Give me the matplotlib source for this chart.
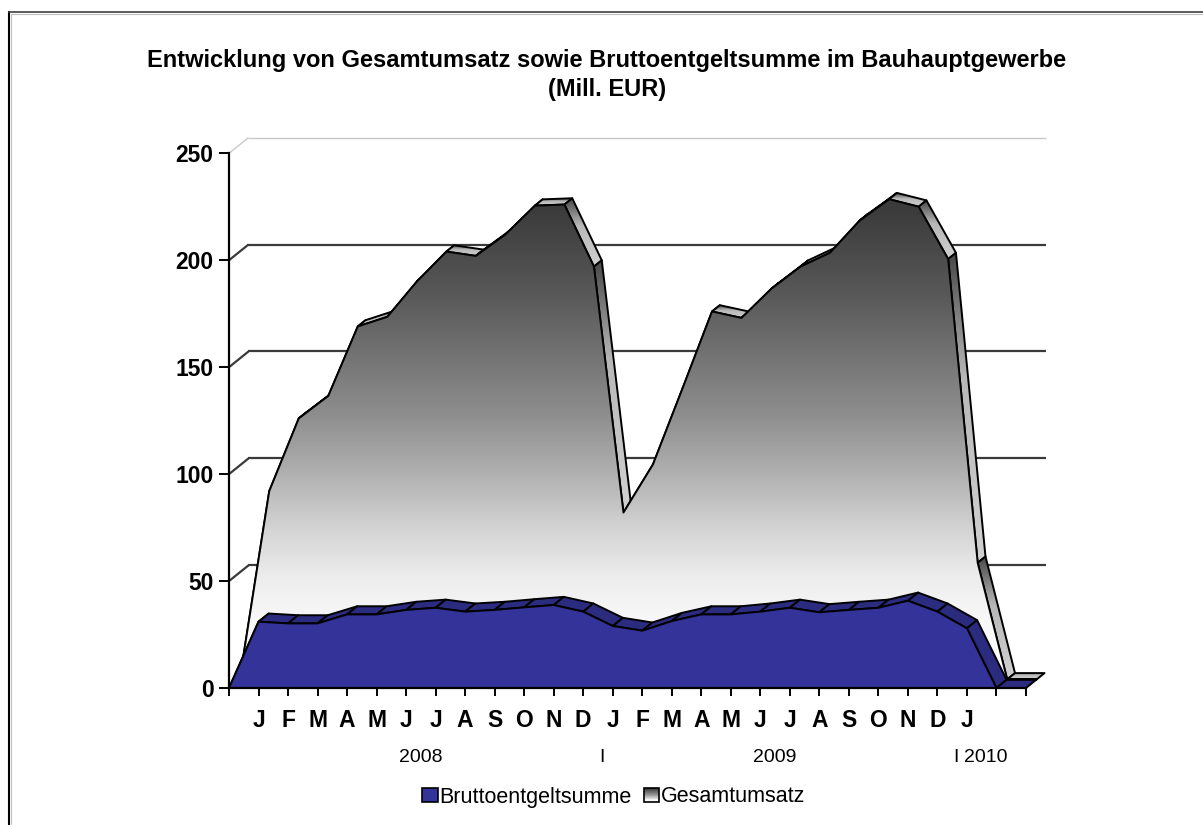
import numpy as np
import matplotlib
matplotlib.use('Agg')
import matplotlib.pyplot as plt
from matplotlib.patches import Polygon, Rectangle, Patch
from matplotlib.colors import LinearSegmentedColormap
from matplotlib.legend_handler import HandlerBase
from matplotlib.lines import Line2D

plt.rcParams['font.family'] = ['Liberation Sans', 'DejaVu Sans']

# ---------------- data ----------------
months = ['J', 'F', 'M', 'A', 'M', 'J', 'J', 'A', 'S', 'O', 'N', 'D']
categories = [''] + months + months + ['J', '', '']
years = ['2008', '2009', '2010']
year_spans = [(1, 12), (13, 24), (25, 26)]
brutto = [0, 31.0, 30.2, 30.2, 34.4, 34.4, 36.5, 37.5, 35.7, 36.5, 37.7, 38.8, 35.7,
          29.0, 26.8, 31.3, 34.4, 34.4, 35.7, 37.5, 35.4, 36.5, 37.5, 40.8, 35.7,
          27.9, 0, 0]
gesamt = [0, 88, 122, 132.5, 165, 169.5, 186, 200, 198, 208, 221.5, 222, 193,
          78, 100.5, 136, 172, 169, 182.5, 193, 199.5, 214.5, 224.5, 221, 196.5,
          54.5, 0, 0]
series_names = ['Bruttoentgeltsumme', 'Gesamtumsatz']
yticks = [0, 50, 100, 150, 200, 250]
title = 'Entwicklung von Gesamtumsatz sowie Bruttoentgeltsumme im Bauhauptgewerbe\n(Mill. EUR)'

# ---------------- layout ----------------
W, H = 1203, 825
X0, X1 = 229.0, 1026.0      # pixel of first / last category
Y0, Y250 = 688.0, 153.3     # pixel of value 0 / 250
n = len(categories)
ppi = (X1 - X0) / (n - 1)
ppv = (Y0 - Y250) / 250.0
DX = 19.5 / ppi             # full depth offset in data units
DY = 15.7 / ppv
ZB = (0.0, 0.52)
ZG = (0.55, 0.95)

fig = plt.figure(figsize=(W / 100, H / 100), dpi=100)
ax = fig.add_axes([0, 0, 1, 1])

def P(i, v, z):
    return (i + z * DX, v + z * DY)

zc = [1]
def nz():
    zc[0] += 1
    return zc[0]

front_cmap = LinearSegmentedColormap.from_list('front', [
    (0.0, (1, 1, 1)), (28 / 228, (0.97,) * 3), (47 / 228, (0.93,) * 3),
    (70 / 228, (0.83,) * 3), (96 / 228, (0.69,) * 3), (125 / 228, (0.55,) * 3),
    (179 / 228, (0.35,) * 3), (217 / 228, (0.24,) * 3), (1.0, (0.22,) * 3)])
rib_cmap = LinearSegmentedColormap.from_list('rib', [
    (0.0, (0.82,) * 3), (0.6, (0.72,) * 3), (1.0, (0.28,) * 3)])

def grad_fill(poly, cmap, z, ylims=None):
    poly = np.asarray(poly)
    xs, ys = poly[:, 0], poly[:, 1]
    ylo, yhi = ylims if ylims else (ys.min(), ys.max())
    if yhi - ylo < 1e-6:
        yhi = ylo + 1e-3
    img = np.linspace(0, 1, 256).reshape(-1, 1)
    im = ax.imshow(img, cmap=cmap, vmin=0, vmax=1,
                   extent=(xs.min(), xs.max(), ylo, yhi), origin='lower',
                   aspect='auto', interpolation='bilinear', zorder=z)
    clip = Polygon(poly, closed=True, transform=ax.transData)
    im.set_clip_path(clip)

LW = 1.4

# ---------------- back wall grid ----------------
for v in yticks[1:]:
    col = '#c8c8c8' if v == yticks[-1] else '#3a3a3a'
    lw = 1.0 if v == yticks[-1] else 1.6
    bx0, by = P(0, v, 1.0)
    bx1, _ = P(n - 1, v, 1.0)
    ax.plot([bx0, bx1], [by, by], color=col, lw=lw, zorder=nz(), solid_capstyle='butt')
    ax.plot([0, bx0], [v, by], color=col, lw=lw, zorder=nz(), solid_capstyle='butt')

# ---------------- Gesamtumsatz (back series) ----------------
for i in range(n - 1):
    q = [P(i, gesamt[i], ZG[0]), P(i + 1, gesamt[i + 1], ZG[0]),
         P(i + 1, gesamt[i + 1], ZG[1]), P(i, gesamt[i], ZG[1])]
    z = nz()
    grad_fill(q, rib_cmap, z)
    ax.add_patch(Polygon(q, closed=True, facecolor='none', edgecolor='black',
                         lw=LW, zorder=z + 0.5, joinstyle='round'))
    zc[0] += 1

front_g = [P(i, gesamt[i], ZG[0]) for i in range(n)] + \
          [P(n - 1, 0, ZG[0]), P(0, 0, ZG[0])]
z = nz()
gmax = max(gesamt) + 3.5
grad_fill(front_g, front_cmap, z, ylims=(ZG[0] * DY, gmax + ZG[0] * DY))
ax.add_patch(Polygon(front_g, closed=True, facecolor='none', edgecolor='black',
                     lw=LW, zorder=z + 0.5, joinstyle='round'))
zc[0] += 1

# ---------------- Bruttoentgeltsumme (front series) ----------------
for i in range(n - 1):
    q = [P(i, brutto[i], ZB[0]), P(i + 1, brutto[i + 1], ZB[0]),
         P(i + 1, brutto[i + 1], ZB[1]), P(i, brutto[i], ZB[1])]
    ax.add_patch(Polygon(q, closed=True, facecolor='#2b2b80', edgecolor='black',
                         lw=LW, zorder=nz(), joinstyle='round'))
front_b = [P(i, brutto[i], ZB[0]) for i in range(n)] + \
          [P(n - 1, 0, ZB[0]), P(0, 0, ZB[0])]
ax.add_patch(Polygon(front_b, closed=True, facecolor='#333399', edgecolor='black',
                     lw=LW, zorder=nz(), joinstyle='round'))

# ---------------- axes ----------------
ax.set_xlim(-X0 / ppi, (W - X0) / ppi)
ax.set_ylim(-(H - Y0) / ppv, Y0 / ppv)
for s in ['top', 'right']:
    ax.spines[s].set_visible(False)
ax.spines['left'].set_position(('data', 0))
ax.spines['bottom'].set_position(('data', 0))
ax.spines['left'].set_bounds(0, yticks[-1])
ax.spines['bottom'].set_bounds(0, n - 1)
for s in ['left', 'bottom']:
    ax.spines[s].set_linewidth(1.6)
    ax.spines[s].set_zorder(500)
ax.set_xticks(range(n))
ax.set_xticklabels(categories)
ax.set_yticks(yticks)
ax.tick_params(axis='y', direction='out', length=7.2, width=1.4, pad=4, labelsize=16.5)
ax.tick_params(axis='x', direction='out', length=5.8, width=1.4, pad=9, labelsize=16.5)
for lbl in ax.get_xticklabels() + ax.get_yticklabels():
    lbl.set_fontweight('bold')

# year (second level) labels
ydrop = -(758 - Y0) * 0.72
for yr, (a, b) in zip(years, year_spans):
    cx = (a + b) / 2 + (0.12 if b - a < 2 else 0)
    ax.annotate(yr, xy=(cx, 0), xytext=(0, ydrop),
                textcoords='offset points', ha='center', va='center', fontsize=14)
for (a, b) in year_spans[:-1]:
    ax.annotate('I', xy=(b + 0.63, 0), xytext=(0, ydrop),
                textcoords='offset points', ha='center', va='center', fontsize=14)

# ---------------- title ----------------
fig.text(607 / W, 1 - 75 / H, title, ha='center', va='center', fontsize=17,
         fontweight='bold', linespacing=1.33)

# ---------------- legend ----------------
class GradHandler(HandlerBase):
    def create_artists(self, legend, orig_handle, xdescent, ydescent,
                       width, height, fontsize, trans):
        arts = []
        k = 16
        for j in range(k):
            c = front_cmap((j + 0.5) / k)
            arts.append(Rectangle((-xdescent, -ydescent + height * (j / k)), width,
                                  height / k + 0.01, facecolor=c, edgecolor='none',
                                  transform=trans))
        arts.append(Rectangle((-xdescent, -ydescent), width, height, facecolor='none',
                              edgecolor='black', lw=1.2, transform=trans))
        return arts

h_b = Patch(facecolor='#333399', edgecolor='black', lw=1.2)
h_g = Patch(facecolor='#888888', edgecolor='black')
ax.legend(handles=[h_b, h_g], labels=series_names, loc='center',
          bbox_to_anchor=(614 / W, 1 - 797 / H), bbox_transform=fig.transFigure,
          ncol=2, frameon=False, handlelength=0.7, handleheight=0.65,
          handletextpad=0.08, columnspacing=0.6, borderpad=0, fontsize=15.5,
          handler_map={h_g: GradHandler()})

# ---------------- chart frame ----------------
fig.add_artist(Line2D([8.5 / W, 8.5 / W], [0, 1 - 12 / H], transform=fig.transFigure,
                      color='black', lw=1.5))
fig.add_artist(Line2D([10.5 / W, 10.5 / W], [0, 1 - 14 / H], transform=fig.transFigure,
                      color='#c0c0c0', lw=0.8))
fig.add_artist(Line2D([8.5 / W, 1], [1 - 12 / H, 1 - 12 / H], transform=fig.transFigure,
                      color='#404040', lw=1.2))
fig.add_artist(Line2D([10.5 / W, 1], [1 - 14 / H, 1 - 14 / H], transform=fig.transFigure,
                      color='#c0c0c0', lw=0.8))

fig.savefig('out.png', dpi=100)
